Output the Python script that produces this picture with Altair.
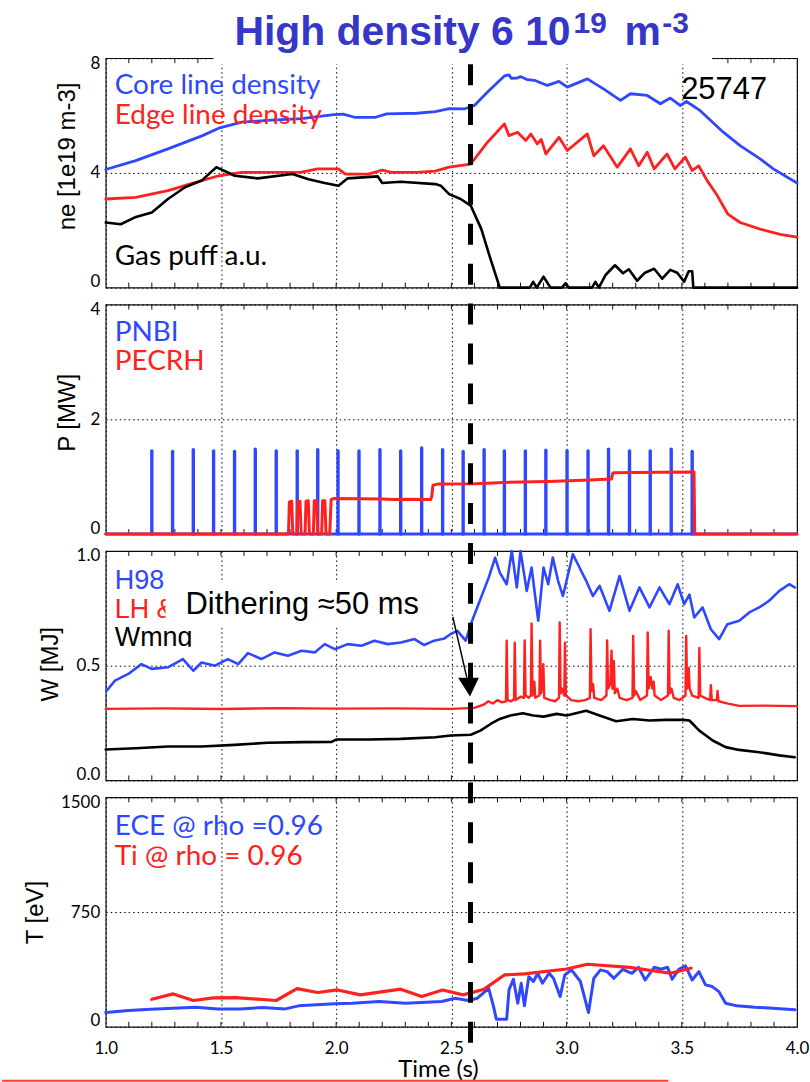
import altair as alt
import pandas as pd

# ---------------- axis tick values ----------------
X_TICKS = [1.0, 1.5, 2.0, 2.5, 3.0, 3.5, 4.0]
MINOR_TICKS = [1.1, 1.2, 1.3, 1.4, 1.5, 1.6, 1.7, 1.8, 1.9, 2.0, 2.1, 2.2, 2.3, 2.4,
               2.5, 2.6, 2.7, 2.8, 2.9, 3.0, 3.1, 3.2, 3.3, 3.4, 3.5, 3.6, 3.7, 3.8, 3.9]
NE_TICKS = [0, 4, 8]
P_TICKS = [0, 2, 4]
W_TICKS = [0.0, 0.5, 1.0]
T_TICKS = [0, 750, 1500]
T_DITHER = 2.583

# ---------------- panel 1: densities (1e19 m-3) ----------------
CORE = [(1.00, 4.12), (1.13, 4.43), (1.27, 4.84), (1.42, 5.30), (1.49, 5.56), (1.59, 5.77),
        (1.70, 5.83), (1.85, 5.89), (1.99, 6.03), (2.03, 6.05), (2.08, 5.94), (2.17, 5.94),
        (2.22, 6.06), (2.35, 6.08), (2.43, 6.14), (2.49, 6.24), (2.555, 6.23), (2.60, 6.35),
        (2.657, 6.82), (2.73, 7.38), (2.75, 7.42), (2.76, 7.30), (2.787, 7.31), (2.80, 7.36),
        (2.83, 7.25), (2.86, 7.23), (2.917, 7.05), (2.967, 7.19), (3.003, 6.99), (3.09, 7.28),
        (3.16, 6.93), (3.234, 6.53), (3.277, 6.76), (3.35, 6.70), (3.407, 6.41), (3.45, 6.61),
        (3.494, 6.35), (3.52, 6.49), (3.58, 6.17), (3.68, 5.42), (3.753, 4.95), (3.84, 4.49),
        (3.897, 4.14), (4.00, 3.65)]
EDGE = [(1.00, 3.09), (1.13, 3.15), (1.27, 3.38), (1.39, 3.67), (1.49, 3.90), (1.59, 4.02),
        (1.70, 4.02), (1.85, 4.03), (1.92, 4.14), (2.01, 4.14), (2.04, 3.96), (2.14, 3.96),
        (2.20, 4.10), (2.24, 4.02), (2.35, 4.02), (2.43, 4.06), (2.49, 4.20), (2.584, 4.31),
        (2.657, 5.07), (2.73, 5.71), (2.75, 5.30), (2.787, 5.42), (2.823, 5.13), (2.845, 5.36),
        (2.873, 5.01), (2.89, 5.17), (2.91, 4.66), (2.967, 5.24), (3.003, 4.78), (3.09, 5.36),
        (3.118, 4.60), (3.16, 4.95), (3.22, 4.20), (3.277, 4.84), (3.313, 4.25), (3.35, 4.72),
        (3.38, 4.14), (3.436, 4.66), (3.47, 4.14), (3.515, 4.55), (3.545, 4.08), (3.573, 4.25),
        (3.61, 3.73), (3.654, 3.21), (3.70, 2.56), (3.753, 2.27), (3.84, 2.04), (3.927, 1.86),
        (4.00, 1.76)]
GAS = [(1.00, 2.27), (1.065, 2.21), (1.127, 2.45), (1.20, 2.62), (1.27, 3.09), (1.344, 3.50),
       (1.416, 3.73), (1.48, 4.20), (1.56, 3.90), (1.66, 3.81), (1.81, 3.96), (1.88, 3.78),
       (1.95, 3.65), (2.01, 3.55), (2.05, 3.81), (2.18, 3.88), (2.20, 3.65), (2.28, 3.69),
       (2.43, 3.61), (2.455, 3.55), (2.49, 3.26), (2.54, 3.09), (2.584, 2.86), (2.63, 2.04),
       (2.67, 0.99), (2.71, 0.0), (2.84, 0.0), (2.855, 0.20), (2.87, 0.0), (2.90, 0.38),
       (2.93, 0.0), (2.98, 0.0), (2.995, 0.15), (3.01, 0.0), (3.11, 0.0), (3.125, 0.20),
       (3.14, 0.0), (3.17, 0.45), (3.21, 0.78), (3.245, 0.50), (3.27, 0.64), (3.306, 0.24),
       (3.34, 0.52), (3.38, 0.66), (3.415, 0.31), (3.45, 0.62), (3.48, 0.52), (3.51, 0.21),
       (3.53, 0.57), (3.545, 0.57), (3.55, 0.0), (4.00, 0.0)]

# ---------------- panel 2: heating power (MW) ----------------
NBI_T = [1.200, 1.290, 1.380, 1.468, 1.559, 1.649, 1.740, 1.831, 1.920, 2.008, 2.099, 2.190,
         2.280, 2.371, 2.462, 2.551, 2.642, 2.730, 2.821, 2.910, 3.002, 3.093, 3.182, 3.273,
         3.363, 3.454, 3.545]
NBI_P = [1.45, 1.44, 1.47, 1.45, 1.44, 1.48, 1.45, 1.45, 1.47, 1.45, 1.45, 1.47, 1.45, 1.50,
         1.47, 1.44, 1.47, 1.45, 1.45, 1.46, 1.45, 1.45, 1.48, 1.45, 1.45, 1.48, 1.44]
NBI_BASE = [(1.0, 0.0), (4.0, 0.0)]
ECRH = [(1.0, 0.0), (1.793, 0.0), (1.797, 0.56), (1.807, 0.57), (1.812, 0.0), (1.829, 0.0),
        (1.833, 0.57), (1.843, 0.57), (1.848, 0.0), (1.865, 0.0), (1.869, 0.57), (1.879, 0.58),
        (1.884, 0.0), (1.901, 0.0), (1.905, 0.58), (1.915, 0.58), (1.920, 0.0), (1.937, 0.0),
        (1.941, 0.58), (1.951, 0.58), (1.956, 0.0), (1.972, 0.0), (1.978, 0.60), (1.99, 0.62),
        (2.10, 0.615), (2.20, 0.61), (2.25, 0.60), (2.30, 0.605), (2.41, 0.60), (2.415, 0.66),
        (2.42, 0.85), (2.44, 0.87), (2.60, 0.875), (2.73, 0.90), (2.92, 0.915), (3.10, 0.94),
        (3.195, 0.96), (3.20, 1.06), (3.205, 1.07), (3.40, 1.075), (3.553, 1.08), (3.556, 0.0),
        (4.0, 0.0)]

# ---------------- panel 3: H98 / LH / Wmhd ----------------
H98 = [(1.004, 0.391), (1.04, 0.435), (1.098, 0.464), (1.155, 0.507), (1.199, 0.486),
       (1.27, 0.493), (1.335, 0.529), (1.38, 0.478), (1.416, 0.514), (1.474, 0.50),
       (1.53, 0.529), (1.575, 0.507), (1.617, 0.555), (1.675, 0.529), (1.733, 0.558),
       (1.79, 0.543), (1.85, 0.565), (1.907, 0.558), (1.95, 0.594), (1.994, 0.572),
       (2.05, 0.594), (2.11, 0.587), (2.166, 0.609), (2.224, 0.594), (2.281, 0.601),
       (2.34, 0.616), (2.382, 0.59), (2.425, 0.609), (2.47, 0.619), (2.497, 0.638),
       (2.526, 0.652), (2.562, 0.609), (2.59, 0.696), (2.626, 0.79), (2.662, 0.884),
       (2.69, 0.971), (2.71, 0.906), (2.74, 0.855), (2.762, 1.0), (2.784, 0.841),
       (2.80, 1.0), (2.827, 0.826), (2.848, 0.928), (2.877, 0.696), (2.90, 0.928),
       (2.92, 0.855), (2.94, 0.971), (2.963, 0.87), (2.984, 0.804), (3.027, 0.986),
       (3.056, 0.928), (3.085, 0.87), (3.114, 0.804), (3.143, 0.848), (3.186, 0.739),
       (3.23, 0.891), (3.273, 0.739), (3.316, 0.841), (3.36, 0.754), (3.403, 0.841),
       (3.446, 0.768), (3.482, 0.855), (3.51, 0.768), (3.533, 0.81), (3.554, 0.71),
       (3.59, 0.754), (3.626, 0.659), (3.662, 0.616), (3.698, 0.681), (3.749, 0.696),
       (3.793, 0.732), (3.836, 0.754), (3.879, 0.783), (3.923, 0.826), (3.966, 0.855),
       (3.99, 0.841)]
LH = [(1.0, 0.312), (1.25, 0.314), (1.5, 0.311), (1.75, 0.315), (2.0, 0.313), (2.25, 0.314),
      (2.5, 0.312), (2.6, 0.316), (2.64, 0.33), (2.66, 0.345), (2.68, 0.335), (2.70, 0.35),
      (2.72, 0.34), (2.737, 0.345), (2.740, 0.609), (2.744, 0.35), (2.76, 0.345),
      (2.772, 0.355), (2.775, 0.60), (2.779, 0.35), (2.80, 0.365), (2.815, 0.36),
      (2.818, 0.61), (2.822, 0.37), (2.836, 0.36), (2.845, 0.37), (2.848, 0.684),
      (2.852, 0.37), (2.86, 0.43), (2.864, 0.36), (2.882, 0.37), (2.885, 0.609),
      (2.889, 0.38), (2.896, 0.41), (2.899, 0.507), (2.903, 0.36), (2.93, 0.35),
      (2.95, 0.345), (2.967, 0.36), (2.970, 0.688), (2.974, 0.38), (2.98, 0.40),
      (2.990, 0.37), (2.993, 0.60), (2.997, 0.37), (3.02, 0.35), (3.05, 0.345), (3.08, 0.35),
      (3.101, 0.36), (3.104, 0.659), (3.108, 0.39), (3.115, 0.42), (3.12, 0.36),
      (3.15, 0.35), (3.173, 0.37), (3.176, 0.61), (3.180, 0.40), (3.19, 0.42),
      (3.195, 0.565), (3.199, 0.40), (3.205, 0.52), (3.209, 0.38), (3.22, 0.40),
      (3.23, 0.36), (3.26, 0.35), (3.286, 0.36), (3.289, 0.63), (3.293, 0.37), (3.30, 0.39),
      (3.32, 0.35), (3.349, 0.37), (3.352, 0.645), (3.356, 0.40), (3.365, 0.45),
      (3.372, 0.40), (3.378, 0.43), (3.382, 0.37), (3.41, 0.35), (3.440, 0.37),
      (3.443, 0.652), (3.447, 0.38), (3.455, 0.40), (3.465, 0.36), (3.49, 0.35),
      (3.516, 0.37), (3.519, 0.63), (3.523, 0.40), (3.530, 0.49), (3.534, 0.40),
      (3.545, 0.37), (3.573, 0.36), (3.576, 0.577), (3.580, 0.37), (3.60, 0.36),
      (3.623, 0.35), (3.626, 0.415), (3.630, 0.35), (3.652, 0.35), (3.655, 0.39),
      (3.659, 0.345), (3.70, 0.335), (3.75, 0.325), (3.85, 0.326), (4.0, 0.324)]
WMHD = [(1.0, 0.135), (1.13, 0.14), (1.27, 0.148), (1.416, 0.148), (1.56, 0.155), (1.70, 0.164),
        (1.85, 0.167), (1.98, 0.168), (2.0, 0.178), (2.14, 0.178), (2.28, 0.181), (2.43, 0.188),
        (2.497, 0.196), (2.584, 0.199), (2.626, 0.217), (2.67, 0.246), (2.71, 0.268),
        (2.756, 0.283), (2.81, 0.293), (2.855, 0.283), (2.90, 0.278), (2.957, 0.29),
        (3.0, 0.283), (3.085, 0.304), (3.143, 0.283), (3.215, 0.258), (3.287, 0.268),
        (3.36, 0.261), (3.43, 0.264), (3.504, 0.264), (3.533, 0.261), (3.576, 0.217),
        (3.634, 0.174), (3.69, 0.145), (3.749, 0.133), (3.836, 0.123), (3.923, 0.109),
        (3.99, 0.101)]
ARROW = {"t": [2.506], "t2": [2.567], "v": [0.713], "v2": [0.448]}
ARROW_HEAD = {"t": [2.574], "v": [0.4065]}

# ---------------- panel 4: temperatures (eV) ----------------
ECE = [(1.0, 93), (1.099, 106), (1.196, 115), (1.293, 122), (1.39, 128), (1.487, 117),
       (1.584, 117), (1.681, 126), (1.779, 117), (1.837, 137), (1.992, 150), (2.07, 154),
       (2.186, 165), (2.303, 154), (2.458, 165), (2.516, 187), (2.574, 172), (2.613, 187),
       (2.662, 252), (2.683, 132), (2.695, 50), (2.74, 50), (2.75, 241), (2.769, 311),
       (2.788, 154), (2.803, 285), (2.817, 137), (2.836, 328), (2.856, 296), (2.875, 350),
       (2.895, 285), (2.924, 350), (2.943, 317), (2.972, 198), (2.992, 339), (3.021, 372),
       (3.06, 296), (3.095, 93), (3.118, 317), (3.147, 372), (3.176, 361), (3.205, 317),
       (3.244, 376), (3.283, 350), (3.312, 389), (3.341, 306), (3.38, 389), (3.409, 376),
       (3.438, 389), (3.458, 311), (3.487, 376), (3.516, 398), (3.545, 306), (3.574, 361),
       (3.603, 274), (3.632, 263), (3.661, 230), (3.69, 154), (3.739, 137), (3.817, 128),
       (3.894, 122), (3.991, 111)]
TI = [(1.2, 180), (1.293, 215), (1.38, 172), (1.468, 189), (1.565, 191), (1.74, 172),
      (1.83, 250), (1.92, 224), (2.006, 241), (2.105, 209), (2.28, 246), (2.371, 198),
      (2.462, 241), (2.551, 209), (2.642, 246), (2.73, 339), (2.817, 346), (3.0, 378),
      (3.09, 409), (3.273, 389), (3.45, 350), (3.54, 383)]

# ---------------- styling ----------------
BLUE = "#2f48ff"
RED = "#ff2020"
TITLE_BLUE = "#3636c8"
W, H = 693, 230
ONE = pd.DataFrame({"a": [0]})


def df(pairs):
    return pd.DataFrame(pairs, columns=["t", "v"])


def xscale():
    return alt.Scale(domain=[1.0, 4.0], nice=False, zero=False)


def x_axis(show):
    if show:
        return alt.Axis(values=X_TICKS, format=".1f", grid=True, ticks=False, domain=False,
                        labelFlush=False, labelPadding=14, title="Time (s)",
                        titleFont="Lato", titleFontSize=24, titleX=333, titleY=50,
                        titleBaseline="alphabetic", titleAlign="center")
    return alt.Axis(values=X_TICKS, grid=True, labels=False, ticks=False, domain=False,
                    title=None)


def y_axis(vals, fmt, title, tx, ty):
    return alt.Axis(values=vals, format=fmt, grid=True, ticks=False, domain=False,
                    labelFlush=True, labelFlushOffset=3, labelPadding=6, title=title,
                    titleX=tx, titleY=ty, titleAngle=270, titleBaseline="bottom",
                    titleAlign="center")


def line_layer(pairs, color, width, xa, ys, ya):
    return alt.Chart(df(pairs)).mark_line(
        color=color, strokeWidth=width, strokeJoin="round", strokeCap="round"
    ).encode(x=alt.X("t:Q", scale=xscale(), axis=xa),
             y=alt.Y("v:Q", scale=ys, axis=ya))


def minor_layers(xa):
    d = pd.DataFrame({"t": MINOR_TICKS})
    base = alt.Chart(d).mark_rule(color="#111111", strokeWidth=1)
    top = base.encode(x=alt.X("t:Q", scale=xscale(), axis=xa), y=alt.value(0), y2=alt.value(5))
    bot = base.encode(x=alt.X("t:Q", scale=xscale(), axis=xa), y=alt.value(H - 5),
                      y2=alt.value(H))
    return [top, bot]


def text(s, x, y, color, size, font="Lato", align="left", weight="normal"):
    return alt.Chart(ONE).mark_text(
        text=s, align=align, baseline="alphabetic", font=font, fontSize=size,
        color=color, fontWeight=weight
    ).encode(x=alt.value(x), y=alt.value(y))


def white_rect(x1, x2, y1, y2):
    return alt.Chart(ONE).mark_rect(color="white").encode(
        x=alt.value(x1), x2=alt.value(x2), y=alt.value(y1), y2=alt.value(y2))


# ---------------- panel 1 ----------------
xa1 = x_axis(False)
ys1 = alt.Scale(domain=[0, 8], nice=False, zero=False)
ya1 = y_axis(NE_TICKS, "d", "ne [1e19 m-3]", -26, 98)
p1 = alt.layer(
    *minor_layers(xa1),
    line_layer(CORE, BLUE, 2.8, xa1, ys1, ya1),
    line_layer(EDGE, RED, 2.8, xa1, ys1, ya1),
    line_layer(GAS, "black", 2.6, xa1, ys1, ya1),
    white_rect(108, 608, -56, 6),
    text("High density 6 10", 129, -13, TITLE_BLUE, 41, "Liberation Sans", weight="bold"),
    text("19", 469, -25, TITLE_BLUE, 30, "Liberation Sans", weight="bold"),
    text("m", 520, -13, TITLE_BLUE, 41, "Liberation Sans", weight="bold"),
    text("-3", 558, -25, TITLE_BLUE, 30, "Liberation Sans", weight="bold"),
    text("Core line density", 9, 36, BLUE, 28),
    text("Edge line density", 9, 66, RED, 28),
    text("Gas puff a.u.", 9, 207, "black", 28),
    text("25747", 663, 41, "black", 31, "Liberation Sans", align="right"),
).properties(width=W, height=H)

# ---------------- panel 2 ----------------
xa2 = x_axis(False)
ys2 = alt.Scale(domain=[0, 4], nice=False, zero=False)
ya2 = y_axis(P_TICKS, "d", "P [MW]", -26, 108)
nbi_df = pd.DataFrame({"t": NBI_T, "v": NBI_P, "v0": [0.0] * len(NBI_T)})
p2 = alt.layer(
    *minor_layers(xa2),
    line_layer(NBI_BASE, BLUE, 3, xa2, ys2, ya2),
    alt.Chart(nbi_df).mark_rule(color=BLUE, strokeWidth=3.4, strokeCap="round").encode(
        x=alt.X("t:Q", scale=xscale(), axis=xa2),
        y=alt.Y("v0:Q", scale=ys2, axis=ya2), y2="v:Q"),
    line_layer(ECRH, RED, 3, xa2, ys2, ya2),
    text("PNBI", 9, 37, BLUE, 28),
    text("PECRH", 9, 66, RED, 28),
).properties(width=W, height=H)

# ---------------- panel 3 ----------------
xa3 = x_axis(False)
ys3 = alt.Scale(domain=[0, 1], nice=False, zero=False)
ya3 = y_axis(W_TICKS, ".1f", "W [MJ]", -43, 113)
p3 = alt.layer(
    *minor_layers(xa3),
    line_layer(H98, BLUE, 2.6, xa3, ys3, ya3),
    line_layer(LH, RED, 2.4, xa3, ys3, ya3),
    line_layer(WMHD, "black", 2.6, xa3, ys3, ya3),
    text("H98", 9, 38, BLUE, 27, "Liberation Sans"),
    text("LH &", 9, 67, RED, 27, "Liberation Sans"),
    text("Wmng", 9, 95, "black", 27, "Liberation Sans"),
    white_rect(5, 100, 96, 106),
    white_rect(60, 328, 32, 75),
    text("Dithering \u224850 ms", 80, 63, "black", 31, "Liberation Sans"),
    alt.Chart(pd.DataFrame(ARROW)).mark_rule(color="black", strokeWidth=1.5).encode(
        x=alt.X("t:Q", scale=xscale(), axis=xa3), x2="t2:Q",
        y=alt.Y("v:Q", scale=ys3, axis=ya3), y2="v2:Q"),
    alt.Chart(pd.DataFrame(ARROW_HEAD)).mark_point(
        shape="M-1,-0.9L1,-0.9L0.15,0.9Z", filled=True, size=430, color="black", opacity=1
    ).encode(x=alt.X("t:Q", scale=xscale(), axis=xa3),
             y=alt.Y("v:Q", scale=ys3, axis=ya3)),
).properties(width=W, height=H)

# ---------------- panel 4 ----------------
xa4 = x_axis(True)
ys4 = alt.Scale(domain=[0, 1500], nice=False, zero=False)
ya4 = y_axis(T_TICKS, "d", "T [eV]", -58, 115)
p4 = alt.layer(
    *minor_layers(xa4),
    line_layer(ECE, BLUE, 3, xa4, ys4, ya4),
    line_layer(TI, RED, 3.2, xa4, ys4, ya4),
    text("ECE @ rho =0.96", 9, 38, BLUE, 28),
    text("Ti @ rho = 0.96", 9, 68, RED, 28),
    alt.Chart(pd.DataFrame({"t": [T_DITHER]})).mark_rule(
        color="black", strokeWidth=5, strokeDash=[21, 19]
    ).encode(x=alt.X("t:Q", scale=xscale(), axis=xa4), y=alt.value(-735), y2=alt.value(246)),
    alt.Chart(ONE).mark_rule(color="#ef4a2a", strokeWidth=2).encode(
        x=alt.value(-104), x2=alt.value(564), y=alt.value(284)),
).properties(width=W, height=H)

chart = alt.vconcat(p1, p2, p3, p4, spacing=17, bounds="flush").properties(
    padding={"left": 0, "top": 0, "right": 0, "bottom": 0},
    background="white",
).configure_view(
    stroke="#111111", strokeWidth=1.2
).configure_axis(
    labelFont="Lato", labelFontSize=17, labelColor="black",
    titleFont="Liberation Sans", titleFontSize=24, titleFontWeight="normal",
    titleColor="black", gridColor="black", gridDash=[1.5, 3], gridWidth=1,
    gridOpacity=1,
)

chart.save("out.html", embed_options={"renderer": "svg", "actions": False})
